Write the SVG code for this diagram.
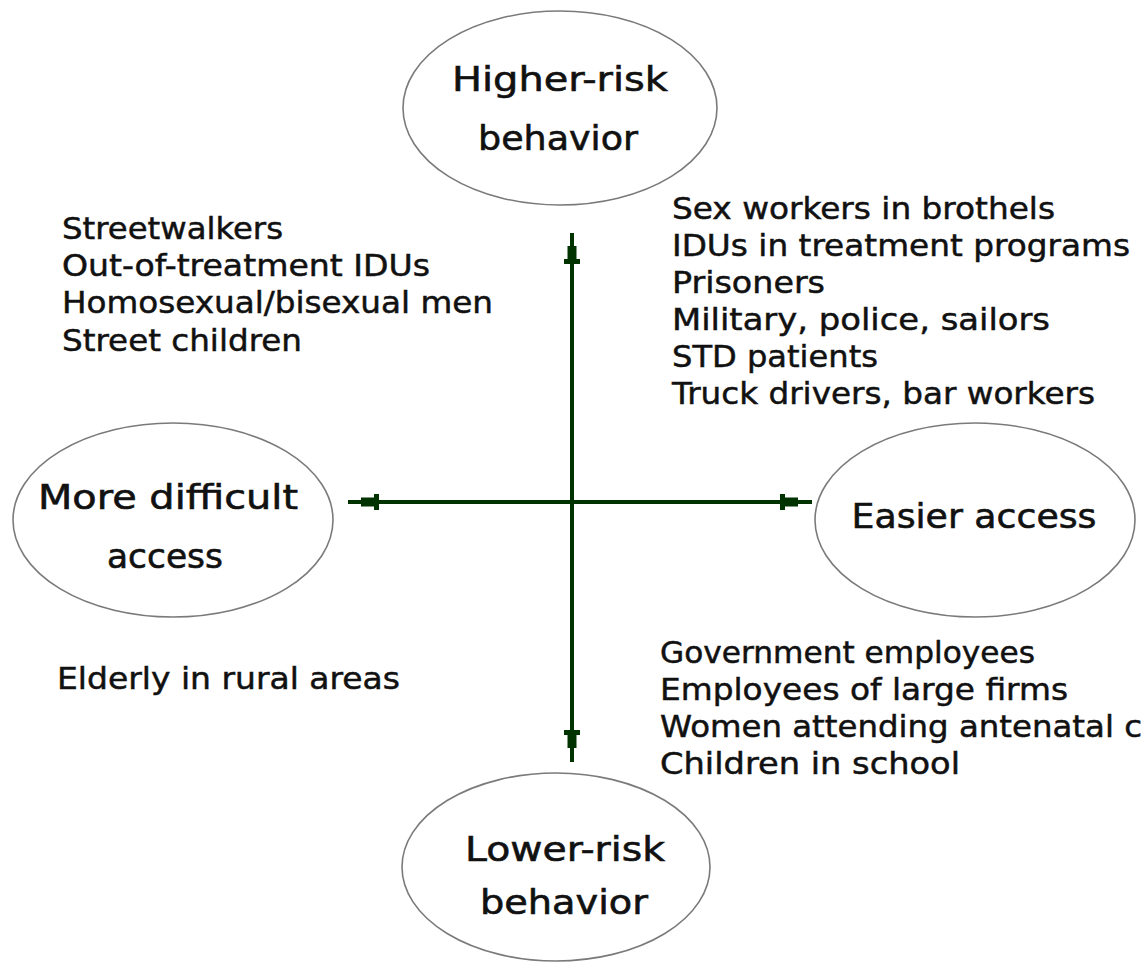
<svg xmlns="http://www.w3.org/2000/svg" width="1142" height="964" viewBox="0 0 1142 964">
<style>
.node ellipse{fill:#fff;stroke:#7a7a7a;stroke-width:1.6}
.lbl{font-family:"DejaVu Sans","Liberation Sans",sans-serif;font-size:34px;fill:#111;stroke:#111;stroke-width:0.6;text-anchor:middle}
.lst{font-family:"DejaVu Sans","Liberation Sans",sans-serif;font-size:31px;fill:#111;stroke:#111;stroke-width:0.5}
.ax{stroke:#003300;stroke-width:4;fill:none}
.ah{fill:#003300}
</style>
<defs>
<path id="ah" d="M-4.5,0 H4.5 V13 H8 V18 H-8 V13 H-4.5 Z"/>
</defs>
<rect width="1142" height="964" fill="#fff"/>
<g id="connectors">
<line class="ax" x1="572" y1="233" x2="572" y2="762"/>
<line class="ax" x1="348" y1="502" x2="812" y2="502"/>
<use href="#ah" class="ah" transform="translate(572,246)"/>
<use href="#ah" class="ah" transform="translate(572,748) rotate(180)"/>
<use href="#ah" class="ah" transform="translate(361,502) rotate(-90)"/>
<use href="#ah" class="ah" transform="translate(798,502) rotate(90)"/>
</g>
<g id="node-higher" class="node">
<ellipse cx="560" cy="108" rx="157" ry="97"/>
<text class="lbl" x="560" y="91" textLength="216" lengthAdjust="spacingAndGlyphs">Higher-risk</text>
<text class="lbl" x="558" y="150" textLength="160" lengthAdjust="spacingAndGlyphs">behavior</text>
</g>
<g id="node-difficult" class="node">
<ellipse cx="173" cy="520" rx="160" ry="97"/>
<text class="lbl" x="168" y="509" textLength="260" lengthAdjust="spacingAndGlyphs">More difficult</text>
<text class="lbl" x="165" y="568" textLength="116" lengthAdjust="spacingAndGlyphs">access</text>
</g>
<g id="node-easier" class="node">
<ellipse cx="975" cy="520" rx="160" ry="97"/>
<text class="lbl" x="974" y="528" textLength="245" lengthAdjust="spacingAndGlyphs">Easier access</text>
</g>
<g id="node-lower" class="node">
<ellipse cx="556" cy="867" rx="154" ry="94"/>
<text class="lbl" x="565" y="861" textLength="200" lengthAdjust="spacingAndGlyphs">Lower-risk</text>
<text class="lbl" x="564" y="914" textLength="168" lengthAdjust="spacingAndGlyphs">behavior</text>
</g>
<g id="list-upper-left">
<text class="lst" x="62" y="239" textLength="221" lengthAdjust="spacingAndGlyphs">Streetwalkers</text>
<text class="lst" x="62" y="276" textLength="368" lengthAdjust="spacingAndGlyphs">Out-of-treatment IDUs</text>
<text class="lst" x="62" y="313" textLength="431" lengthAdjust="spacingAndGlyphs">Homosexual/bisexual men</text>
<text class="lst" x="62" y="351" textLength="240" lengthAdjust="spacingAndGlyphs">Street children</text>
</g>
<g id="list-upper-right">
<text class="lst" x="672" y="219" textLength="383" lengthAdjust="spacingAndGlyphs">Sex workers in brothels</text>
<text class="lst" x="672" y="256" textLength="458" lengthAdjust="spacingAndGlyphs">IDUs in treatment programs</text>
<text class="lst" x="672" y="293" textLength="153" lengthAdjust="spacingAndGlyphs">Prisoners</text>
<text class="lst" x="672" y="330" textLength="378" lengthAdjust="spacingAndGlyphs">Military, police, sailors</text>
<text class="lst" x="672" y="367" textLength="206" lengthAdjust="spacingAndGlyphs">STD patients</text>
<text class="lst" x="672" y="404" textLength="423" lengthAdjust="spacingAndGlyphs">Truck drivers, bar workers</text>
</g>
<g id="list-lower-left">
<text class="lst" x="57" y="689" textLength="343" lengthAdjust="spacingAndGlyphs">Elderly in rural areas</text>
</g>
<g id="list-lower-right">
<text class="lst" x="660" y="663" textLength="375" lengthAdjust="spacingAndGlyphs">Government employees</text>
<text class="lst" x="660" y="700" textLength="408" lengthAdjust="spacingAndGlyphs">Employees of large firms</text>
<text class="lst" x="660" y="737" textLength="482" lengthAdjust="spacingAndGlyphs">Women attending antenatal c</text>
<text class="lst" x="660" y="774" textLength="300" lengthAdjust="spacingAndGlyphs">Children in school</text>
</g>
</svg>
